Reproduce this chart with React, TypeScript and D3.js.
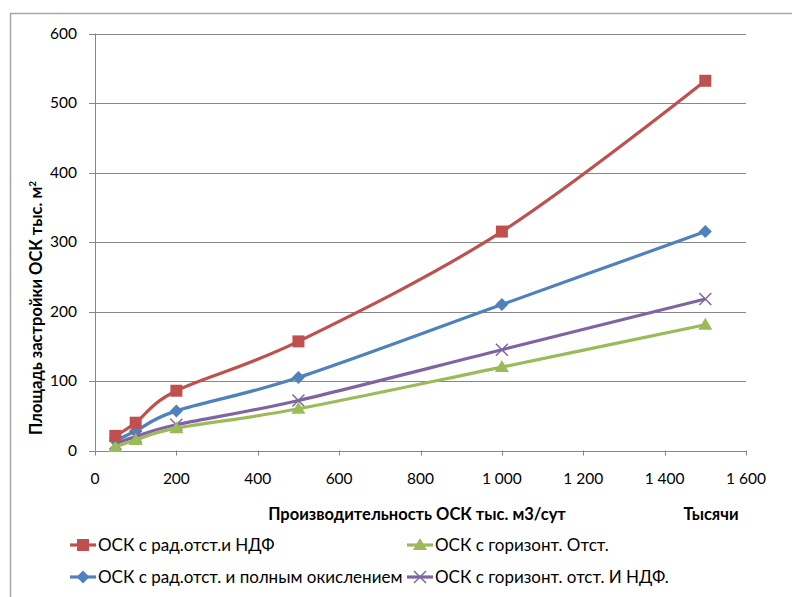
import React from "react";
import * as d3 from "d3";

const xValues = [50, 100, 200, 500, 1000, 1500];
const redValues = [21, 40, 86, 157, 315, 532];
const blueValues = [14, 28, 57, 105, 210, 315];
const greenValues = [5, 15, 32, 60, 120, 181];
const purpleValues = [10, 20, 37, 72, 145, 218];
const xTicks = [0, 200, 400, 600, 800, 1000, 1200, 1400, 1600];
const yTicks = [0, 100, 200, 300, 400, 500, 600];
const seriesNames = [
  "ОСК с рад.отст.и НДФ",
  "ОСК с горизонт. Отст.",
  "ОСК с рад.отст. и полным окислением",
  "ОСК с горизонт. отст. И НДФ.",
];

const FONT = "Lato, 'Open Sans', sans-serif";
const fmt = (v: number) => (v >= 1000 ? `${Math.floor(v / 1000)} ${String(v % 1000).padStart(3, "0")}` : String(v));

const series = [
  { name: seriesNames[0], values: redValues, color: "#C0504D", marker: "square" },
  { name: seriesNames[1], values: greenValues, color: "#9BBB59", marker: "triangle" },
  { name: seriesNames[2], values: blueValues, color: "#4F81BD", marker: "diamond" },
  { name: seriesNames[3], values: purpleValues, color: "#8064A2", marker: "x" },
];
const drawOrder = [2, 3, 1, 0];

function Marker({ type, color, x, y }: { type: string; color: string; x: number; y: number }) {
  if (type === "square") return <rect x={x - 6} y={y - 6} width={12} height={12} fill={color} />;
  if (type === "diamond") return <path d={`M${x},${y - 6.5}L${x + 6.5},${y}L${x},${y + 6.5}L${x - 6.5},${y}Z`} fill={color} />;
  if (type === "triangle") return <path d={`M${x},${y - 7}L${x + 7},${y + 5}L${x - 7},${y + 5}Z`} fill={color} />;
  return (
    <g stroke={color} strokeWidth={1.5}>
      <line x1={x - 6} y1={y - 6} x2={x + 6} y2={y + 6} />
      <line x1={x - 6} y1={y + 6} x2={x + 6} y2={y - 6} />
    </g>
  );
}

export default function App() {
  const W = 792, H = 597;
  const left = 95, right = 746, top = 33.5, bottom = 450.5;
  const x = d3.scaleLinear().domain([0, 1600]).range([left, right]);
  const y = d3.scaleLinear().domain([0, 600]).range([bottom, top]);
  const line = d3.line<number>().x((_, i) => x(xValues[i])).y((d) => y(d)).curve(d3.curveCardinal.tension(0));
  const gridColor = "#878787";
  const legend = [
    { s: 0, lx: 70, ly: 545 },
    { s: 1, lx: 407, ly: 545 },
    { s: 2, lx: 70, ly: 577 },
    { s: 3, lx: 407, ly: 577 },
  ];
  return (
    <svg width={W} height={H} style={{ position: "absolute", left: 0, top: 0 }} fontFamily={FONT}>
      <rect x={0} y={0} width={W} height={H} fill="#fff" />
      <rect x={10.5} y={13.5} width={W + 10} height={H + 10} fill="none" stroke="#a6a6a6" strokeWidth={1.5} />
      {yTicks.map((t) => (
        <g key={t}>
          <line x1={left - 6} x2={right} y1={Math.round(y(t)) + 0.5} y2={Math.round(y(t)) + 0.5} stroke={gridColor} strokeWidth={1} />
          <text x={left - 18} y={y(t) + 5} textAnchor="end" fontSize={15.5} fill="#000">{t}</text>
        </g>
      ))}
      <line x1={left + 0.5} x2={left + 0.5} y1={top} y2={bottom} stroke={gridColor} />
      {xTicks.map((t) => (
        <g key={t}>
          <line x1={Math.round(x(t)) + 0.5} x2={Math.round(x(t)) + 0.5} y1={bottom} y2={bottom + 5} stroke={gridColor} />
          <text x={x(t)} y={484} textAnchor="middle" fontSize={15.5} fill="#000">{fmt(t)}</text>
        </g>
      ))}
      {drawOrder.map((i) => {
        const s = series[i];
        return (
          <g key={s.name}>
            <path d={line(s.values) || ""} fill="none" stroke={s.color} strokeWidth={3.2} strokeLinejoin="round" />
            {s.values.map((v, j) => (
              <Marker key={j} type={s.marker} color={s.color} x={x(xValues[j])} y={y(v)} />
            ))}
          </g>
        );
      })}
      <text transform="translate(42,308) rotate(-90)" textAnchor="middle" fontSize={16.5} fontWeight="bold" fill="#000">
        Площадь застройки ОСК тыс. м<tspan dy={-6} fontSize={10}>2</tspan>
      </text>
      <text x={417} y={520} textAnchor="middle" fontSize={16.5} fontWeight="bold" fill="#000">Производительность ОСК тыс. м3/сут</text>
      <text x={711} y={520} textAnchor="middle" fontSize={16.5} fontWeight="bold" fill="#000">Тысячи</text>
      {legend.map(({ s, lx, ly }) => {
        const ser = series[s];
        return (
          <g key={s}>
            <line x1={lx} x2={lx + 26} y1={ly} y2={ly} stroke={ser.color} strokeWidth={3.2} />
            <Marker type={ser.marker} color={ser.color} x={lx + 13} y={ly} />
            <text x={lx + 28} y={ly + 5.5} fontSize={17} fill="#000">{ser.name}</text>
          </g>
        );
      })}
    </svg>
  );
}
